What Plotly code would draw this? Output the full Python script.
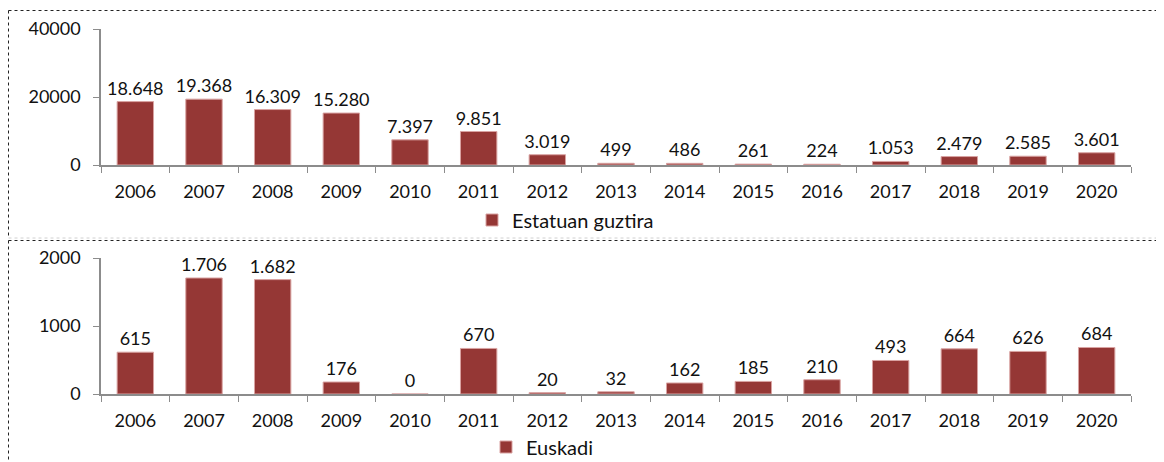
import plotly.graph_objects as go

years = ["2006", "2007", "2008", "2009", "2010", "2011", "2012", "2013",
         "2014", "2015", "2016", "2017", "2018", "2019", "2020"]
estatuan = [18648, 19368, 16309, 15280, 7397, 9851, 3019, 499, 486, 261,
            224, 1053, 2479, 2585, 3601]
euskadi = [615, 1706, 1682, 176, 0, 670, 20, 32, 162, 185, 210, 493, 664,
           626, 684]
top_ticks = [0, 20000, 40000]
bottom_ticks = [0, 1000, 2000]

# The page body has an 8px default margin; the figure fills the rest.
OFF = 8
W, H = 1164 - OFF, 462 - OFF
BAR = "#953735"
FONT = "Lato"
TXT = "#111111"


def fmt(v):
    return f"{v:,}".replace(",", ".")


def px(x):
    return (x - OFF) / W


def py(y):
    return 1 - (y - OFF) / H


fig = go.Figure()
fig.add_trace(go.Bar(
    x=years, y=estatuan, name="Estatuan guztira",
    text=[fmt(v) for v in estatuan], textposition="outside", constraintext="none",
    textfont=dict(size=18, color=TXT, family=FONT),
    cliponaxis=False, marker=dict(color=BAR, line=dict(color="#d9a3a2", width=1)),
    xaxis="x", yaxis="y", legend="legend", width=0.53,
))
fig.add_trace(go.Bar(
    x=years, y=euskadi, name="Euskadi",
    text=[fmt(v) for v in euskadi], textposition="outside", constraintext="none",
    textfont=dict(size=18, color=TXT, family=FONT),
    cliponaxis=False, marker=dict(color=BAR, line=dict(color="#d9a3a2", width=1)),
    xaxis="x2", yaxis="y2", legend="legend2", width=0.53,
))

axis_common = dict(showline=True, linecolor="#8c8c8c", linewidth=1.5,
                   ticks="outside", tickcolor="#8c8c8c", ticklen=6,
                   showgrid=False, zeroline=False,
                   tickfont=dict(size=18, color=TXT, family=FONT))

xdom = [px(101), px(1131)]
fig.update_layout(
    width=W, height=H,
    margin=dict(l=0, r=0, t=0, b=0, autoexpand=False),
    paper_bgcolor="white", plot_bgcolor="white",
    font=dict(family=FONT, color=TXT),
    xaxis=dict(domain=xdom, anchor="y", type="category", tickson="boundaries",
               ticklabelstandoff=10, **axis_common),
    yaxis=dict(domain=[py(165), py(29)], anchor="x", range=[0, 40000],
               ticklabelstandoff=9,
               tickvals=top_ticks, ticktext=[str(v) for v in top_ticks], **axis_common),
    xaxis2=dict(domain=xdom, anchor="y2", type="category", tickson="boundaries",
                ticklabelstandoff=10, **axis_common),
    yaxis2=dict(domain=[py(394), py(258)], anchor="x2", range=[0, 2000],
                ticklabelstandoff=9,
                tickvals=bottom_ticks, ticktext=[str(v) for v in bottom_ticks], **axis_common),
    legend=dict(x=px(472), y=py(220), xanchor="left", yanchor="middle",
                orientation="h", font=dict(size=20, family=FONT, color=TXT),
                itemwidth=30, bgcolor="rgba(0,0,0,0)"),
    legend2=dict(x=px(486), y=py(447), xanchor="left", yanchor="middle",
                 orientation="h", font=dict(size=20, family=FONT, color=TXT),
                 itemwidth=30, bgcolor="rgba(0,0,0,0)"),
    showlegend=True,
    bargap=0.47,
)

dash = dict(color="#222222", width=1, dash="dot")
shapes = [
    # top panel border
    dict(type="line", xref="paper", yref="paper", x0=px(8.5), x1=1.01, y0=py(10.5), y1=py(10.5), line=dash),
    dict(type="line", xref="paper", yref="paper", x0=px(8.5), x1=px(8.5), y0=py(10.5), y1=py(238), line=dash),
    dict(type="line", xref="paper", yref="paper", x0=px(8.5), x1=1.01, y0=py(238), y1=py(238),
         line=dict(color="#d0d0d0", width=1, dash="dot")),
    # bottom panel border
    dict(type="line", xref="paper", yref="paper", x0=px(8.5), x1=1.01, y0=py(240.5), y1=py(240.5), line=dash),
    dict(type="line", xref="paper", yref="paper", x0=px(8.5), x1=px(8.5), y0=py(240.5), y1=-0.01, line=dash),
]
fig.update_layout(shapes=shapes)

fig.write_html("out.html")
